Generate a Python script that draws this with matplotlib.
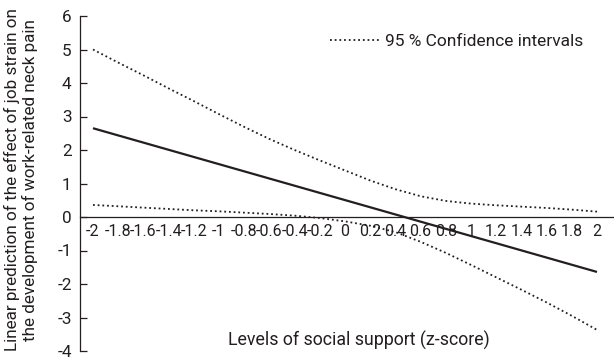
import numpy as np
import matplotlib
matplotlib.use("Agg")
import matplotlib.pyplot as plt
from matplotlib.lines import Line2D

plt.rcParams['font.family'] = ['Roboto', 'DejaVu Sans']
plt.rcParams['axes.unicode_minus'] = False

# levels of social support (z-score)
support = [-2.0, -1.8, -1.6, -1.4, -1.2, -1.0, -0.8, -0.6, -0.4, -0.2, 0.0,
           0.2, 0.4, 0.6, 0.8, 1.0, 1.2, 1.4, 1.6, 1.8, 2.0]
# linear prediction
pred_x = [-2.0, 2.0]
pred_y = [2.65, -1.64]
# 95% CI bounds
ci_upper = [5.00, 4.61, 4.23, 3.84, 3.46, 3.07, 2.69, 2.33, 2.00, 1.69, 1.39,
            1.09, 0.83, 0.62, 0.48, 0.40, 0.35, 0.31, 0.27, 0.22, 0.16]
ci_lower = [0.36, 0.32, 0.28, 0.24, 0.20, 0.17, 0.13, 0.09, 0.04, -0.03, -0.13,
            -0.26, -0.45, -0.74, -1.07, -1.43, -1.80, -2.17, -2.55, -2.95, -3.37]

xtick_labels = ['-2', '-1.8', '-1.6', '-1.4', '-1.2', '-1', '-0.8', '-0.6', '-0.4', '-0.2', '0',
                '0.2', '0.4', '0.6', '0.8', '1', '1.2', '1.4', '1.6', '1.8', '2']
yticks = [-4, -3, -2, -1, 0, 1, 2, 3, 4, 5, 6]

col = '#231f20'
dot = (0, (1, 1.6))

fig = plt.figure(figsize=(6.14, 3.61), dpi=100)
ax = fig.add_axes([80/614, 10/361, 534/614, 335/361])

ax.plot(pred_x, pred_y, color=col, lw=1.6, solid_capstyle='butt')
ax.plot(support, ci_upper, color=col, lw=1.3, linestyle=dot)
ax.plot(support, ci_lower, color=col, lw=1.3, linestyle=dot)

ax.set_xlim(-2.103, 2.135)
ax.set_ylim(-4, 6)

ax.spines['top'].set_visible(False)
ax.spines['right'].set_visible(False)
ax.spines['bottom'].set_position(('data', 0))
for s in ['left', 'bottom']:
    ax.spines[s].set_linewidth(0.9)
    ax.spines[s].set_color(col)

ax.set_xticks(support)
ax.set_xticklabels(xtick_labels)
ax.set_yticks(yticks)
ax.tick_params(axis='x', length=0, pad=5, labelsize=11.5, colors=col)
ax.tick_params(axis='y', direction='in', length=5, width=0.9, pad=6, labelsize=12.3, colors=col)

ax.text(0.522, 0.033, 'Levels of social support (z-score)', transform=ax.transAxes,
        ha='center', va='center', fontsize=12.8, color=col)

fig.text(21/614, (361-180)/361, 'Linear prediction of the effect of job strain on\nthe development of work-related neck pain',
         rotation=90, ha='center', va='center', fontsize=12.3, color=col, linespacing=1.1)

h = Line2D([], [], color=col, lw=1.3, linestyle=dot)
ax.legend([h], ['95 % Confidence intervals'], loc='center left', bbox_to_anchor=(0.468, 0.923),
          frameon=False, borderpad=0, borderaxespad=0, handlelength=2.8, handletextpad=0.4,
          fontsize=12.5, labelcolor=col)

fig.savefig('out.png', dpi=100)
